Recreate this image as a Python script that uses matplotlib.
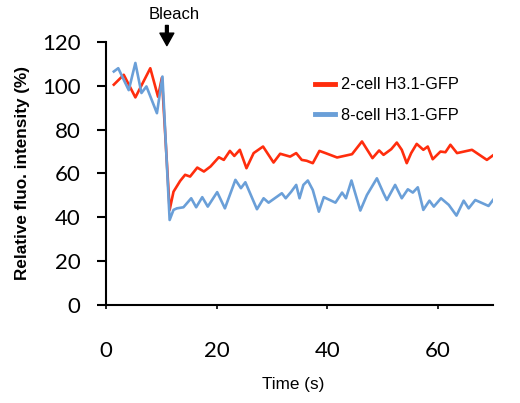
import matplotlib.pyplot as plt

# peaks and troughs (time in s, intensity in %)
t_2cell = [1.4, 3.2, 5.3, 8.0, 9.4, 10.1, 11.5, 12.2, 13.4, 14.3, 15.2, 16.5, 17.7,
           18.9, 20.4, 21.3, 22.4, 23.2, 24.2, 25.4, 26.7, 28.4, 30.3, 31.5, 33.3,
           34.4, 35.4, 36.3, 37.4, 38.6, 39.7, 41.8, 44.5, 46.3, 48.2, 49.4, 50.2,
           51.6, 52.6, 53.5, 54.4, 55.2, 56.2, 57.4, 58.2, 59.1, 60.5, 61.4, 62.3,
           63.5, 66.2, 68.9, 70.4]
v_2cell = [100.5, 105, 94.7, 108, 95, 103.7, 43.4, 51.7, 56.6, 59.4, 58.6, 62.7, 60.9,
           63.2, 67.4, 66.2, 70.3, 68, 70.8, 62.4, 69.3, 72.3, 65, 69, 67.7,
           69.3, 66.2, 65.8, 64.7, 70.3, 69.3, 67.3, 68.8, 74.6, 67, 70.5, 68.5,
           71.1, 74.1, 70.8, 64.7, 69.3, 73.5, 70.8, 72.3, 66.5, 70, 69.7, 73.1,
           69.3, 70.8, 66.2, 69]

t_8cell = [1.4, 2.2, 4.1, 5.3, 6.4, 7.3, 9.2, 10.2, 11.5, 12.2, 12.8, 14.0, 15.4, 16.3,
           17.4, 18.4, 20.1, 21.5, 23.4, 24.4, 25.2, 27.3, 28.5, 29.4, 31.8, 32.5,
           33.5, 34.4, 35.0, 35.7, 36.5, 37.4, 38.5, 39.4, 41.5, 42.7, 43.4, 44.4,
           46.0, 47.2, 49.0, 50.2, 50.8, 52.3, 53.5, 54.6, 55.5, 56.4, 57.4, 58.5,
           59.3, 60.6, 62.0, 63.4, 64.7, 65.6, 66.8, 69.2, 70.4]
v_8cell = [106.5, 108, 98, 110.4, 96.7, 99.7, 87.5, 104.2, 38.8, 43.4, 44.1, 44.6, 48.7, 44.6,
           49.2, 44.9, 51.5, 44.1, 57.1, 53.3, 56, 43.7, 48.7, 46.7, 51, 48.7,
           51.7, 54.8, 48.7, 54.8, 56.8, 52.5, 42.6, 49.2, 46.7, 51.3, 48.7, 56.8,
           43.1, 50.2, 57.8, 51, 47.9, 54.8, 48.7, 52.8, 51.3, 53.7, 43.4, 47.6,
           44.9, 48.7, 45.7, 40.8, 47.6, 44.1, 47.9, 45.2, 49.2]

x_ticks = [0, 20, 40, 60]
y_ticks = [0, 20, 40, 60, 80, 100, 120]

bleach_time = 11

red = "#FF2D0D"
blue = "#6A9FD8"

fig = plt.figure(figsize=(5.2, 4.03), dpi=100)
ax = fig.add_axes([0.204, 0.243, 0.744, 0.653])

ax.plot(t_2cell, v_2cell, color=red, lw=1.9, solid_joinstyle="round",
        label="2-cell H3.1-GFP")
ax.plot(t_8cell, v_8cell, color=blue, lw=1.9, solid_joinstyle="round",
        label="8-cell H3.1-GFP")

ax.set_xlim(0, 70)
ax.set_ylim(0, 120)
ax.set_xticks(x_ticks)
ax.set_yticks(y_ticks)

for s in ["top", "right"]:
    ax.spines[s].set_visible(False)
for s in ["left", "bottom"]:
    ax.spines[s].set_linewidth(1.5)

tick_font = {"family": "Lato", "size": 16}
ax.set_xticklabels([str(v) for v in x_ticks], fontdict=tick_font)
ax.set_yticklabels([str(v) for v in y_ticks], fontdict=tick_font)
ax.tick_params(axis="x", direction="out", length=3, width=1.2, pad=23)
ax.tick_params(axis="y", direction="out", length=6.5, width=1.5, pad=12)

ax.set_xlabel("Time (s)", family="Liberation Sans", fontsize=12.3)
ax.xaxis.set_label_coords(0.483, -0.272)
ax.set_ylabel("Relative fluo. intensity (%)", family="Liberation Sans",
              fontsize=12.3, fontweight="bold")
ax.yaxis.set_label_coords(-0.196, 0.5)

# bleach marker
ax.annotate("", xy=(bleach_time, 118.3), xytext=(bleach_time, 127.5),
            annotation_clip=False,
            arrowprops=dict(width=2, headwidth=10, headlength=9,
                            facecolor="black", edgecolor="black", shrink=0.0))
ax.text(bleach_time + 1.3, 132.4, "Bleach", ha="center", va="center",
        family="Liberation Sans", fontsize=12, clip_on=False)

leg = ax.legend(loc="upper left", bbox_to_anchor=(0.606, 0.808),
                bbox_transform=fig.transFigure, frameon=False, borderpad=0,
                borderaxespad=0, handlelength=1.2, handletextpad=0.35,
                labelspacing=0.95, prop={"family": "Liberation Sans", "size": 11.8})
for line in leg.get_lines():
    line.set_linewidth(3.5)

fig.savefig("out.png", dpi=100)
